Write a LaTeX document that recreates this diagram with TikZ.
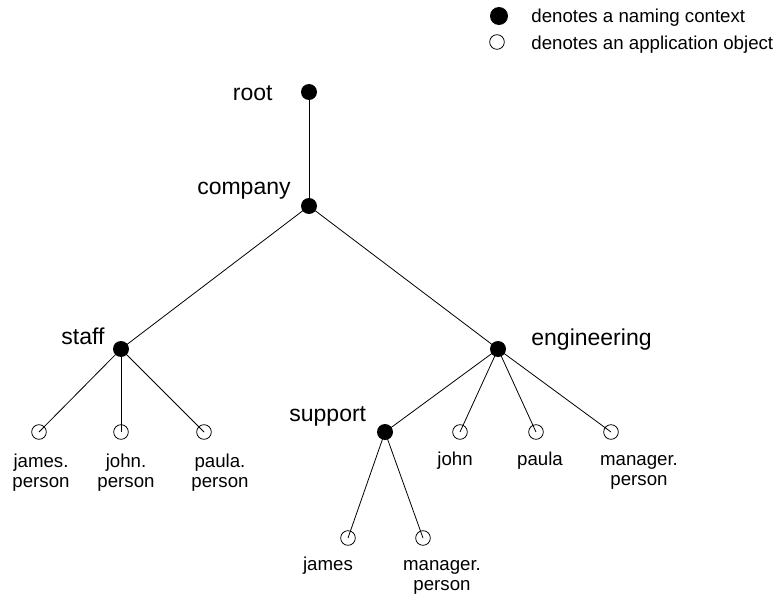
\documentclass[tikz,border=0pt]{standalone}
\usepackage{fontspec}
\setmainfont{Liberation Sans}

\begin{document}
\begin{tikzpicture}[x=0.75pt,y=-0.75pt,line width=0.6pt]
      \useasboundingbox (0,0) rectangle (783,596);
      \tikzstyle{ctx}=[circle,fill=black,inner sep=0pt,minimum size=12pt]
      \tikzstyle{obj}=[circle,draw=black,inner sep=0pt,minimum size=11pt]
      \tikzstyle{big}=[inner sep=0pt,font=\fontsize{17.25}{20}\selectfont]
      \tikzstyle{small}=[inner sep=0pt,align=center,font=\fontsize{14}{15}\selectfont]
      % legend
      \node [ctx,minimum size=13.5pt] (keyctx) at (499,16) {};
      \node [obj] (keyobj) at (497,42) {};
      \node [small,anchor=base west] (keyctxlbl) at (531,22) {denotes a naming context};
      \node [small,anchor=base west] (keyobjlbl) at (531,49) {denotes an application object};
      % naming contexts
      \node [ctx] (root) at (309,92) {};
      \node [ctx] (company) at (309,206) {};
      \node [ctx] (staff) at (121,349) {};
      \node [ctx] (eng) at (498,349) {};
      \node [ctx] (support) at (385,432) {};
      \node [big,anchor=base east] (rootlbl) at (273,100) {root};
      \node [big,anchor=base east] (companylbl) at (291,194) {company};
      \node [big,anchor=base west] (stafflbl) at (61,344) {staff};
      \node [big,anchor=base west] (englbl) at (531,345) {engineering};
      \node [big,anchor=base west] (supportlbl) at (289,421) {support};
      % application objects
      \node [obj] (jamesp) at (39,432) {};
      \node [obj] (johnp) at (121,432) {};
      \node [obj] (paulap) at (204,432) {};
      \node [obj] (john) at (460,432) {};
      \node [obj] (paula) at (536,432) {};
      \node [obj] (mgrp) at (611,432) {};
      \node [obj] (james) at (348,538) {};
      \node [obj] (smgrp) at (423,538) {};
      \node [small,anchor=base] (jamesplbl) at (41,487) {james.\\person};
      \node [small,anchor=base] (johnplbl) at (126,487) {john.\\person};
      \node [small,anchor=base] (paulaplbl) at (220,487) {paula.\\person};
      \node [small,anchor=base] (johnlbl) at (455,465) {john};
      \node [small,anchor=base] (paulalbl) at (540,465) {paula};
      \node [small,anchor=base] (mgrplbl) at (639,485) {manager.\\person};
      \node [small,anchor=base] (jameslbl) at (328,570) {james};
      \node [small,anchor=base] (smgrplbl) at (442,590) {manager.\\person};
      % edges
      \foreach \a/\b in {root/company,company/staff,company/eng,
                         staff/jamesp,staff/johnp,staff/paulap,
                         eng/support,eng/john,eng/paula,eng/mgrp,
                         support/james,support/smgrp}
          \draw (\a.center) -- (\b.center);
\end{tikzpicture}
\end{document}
